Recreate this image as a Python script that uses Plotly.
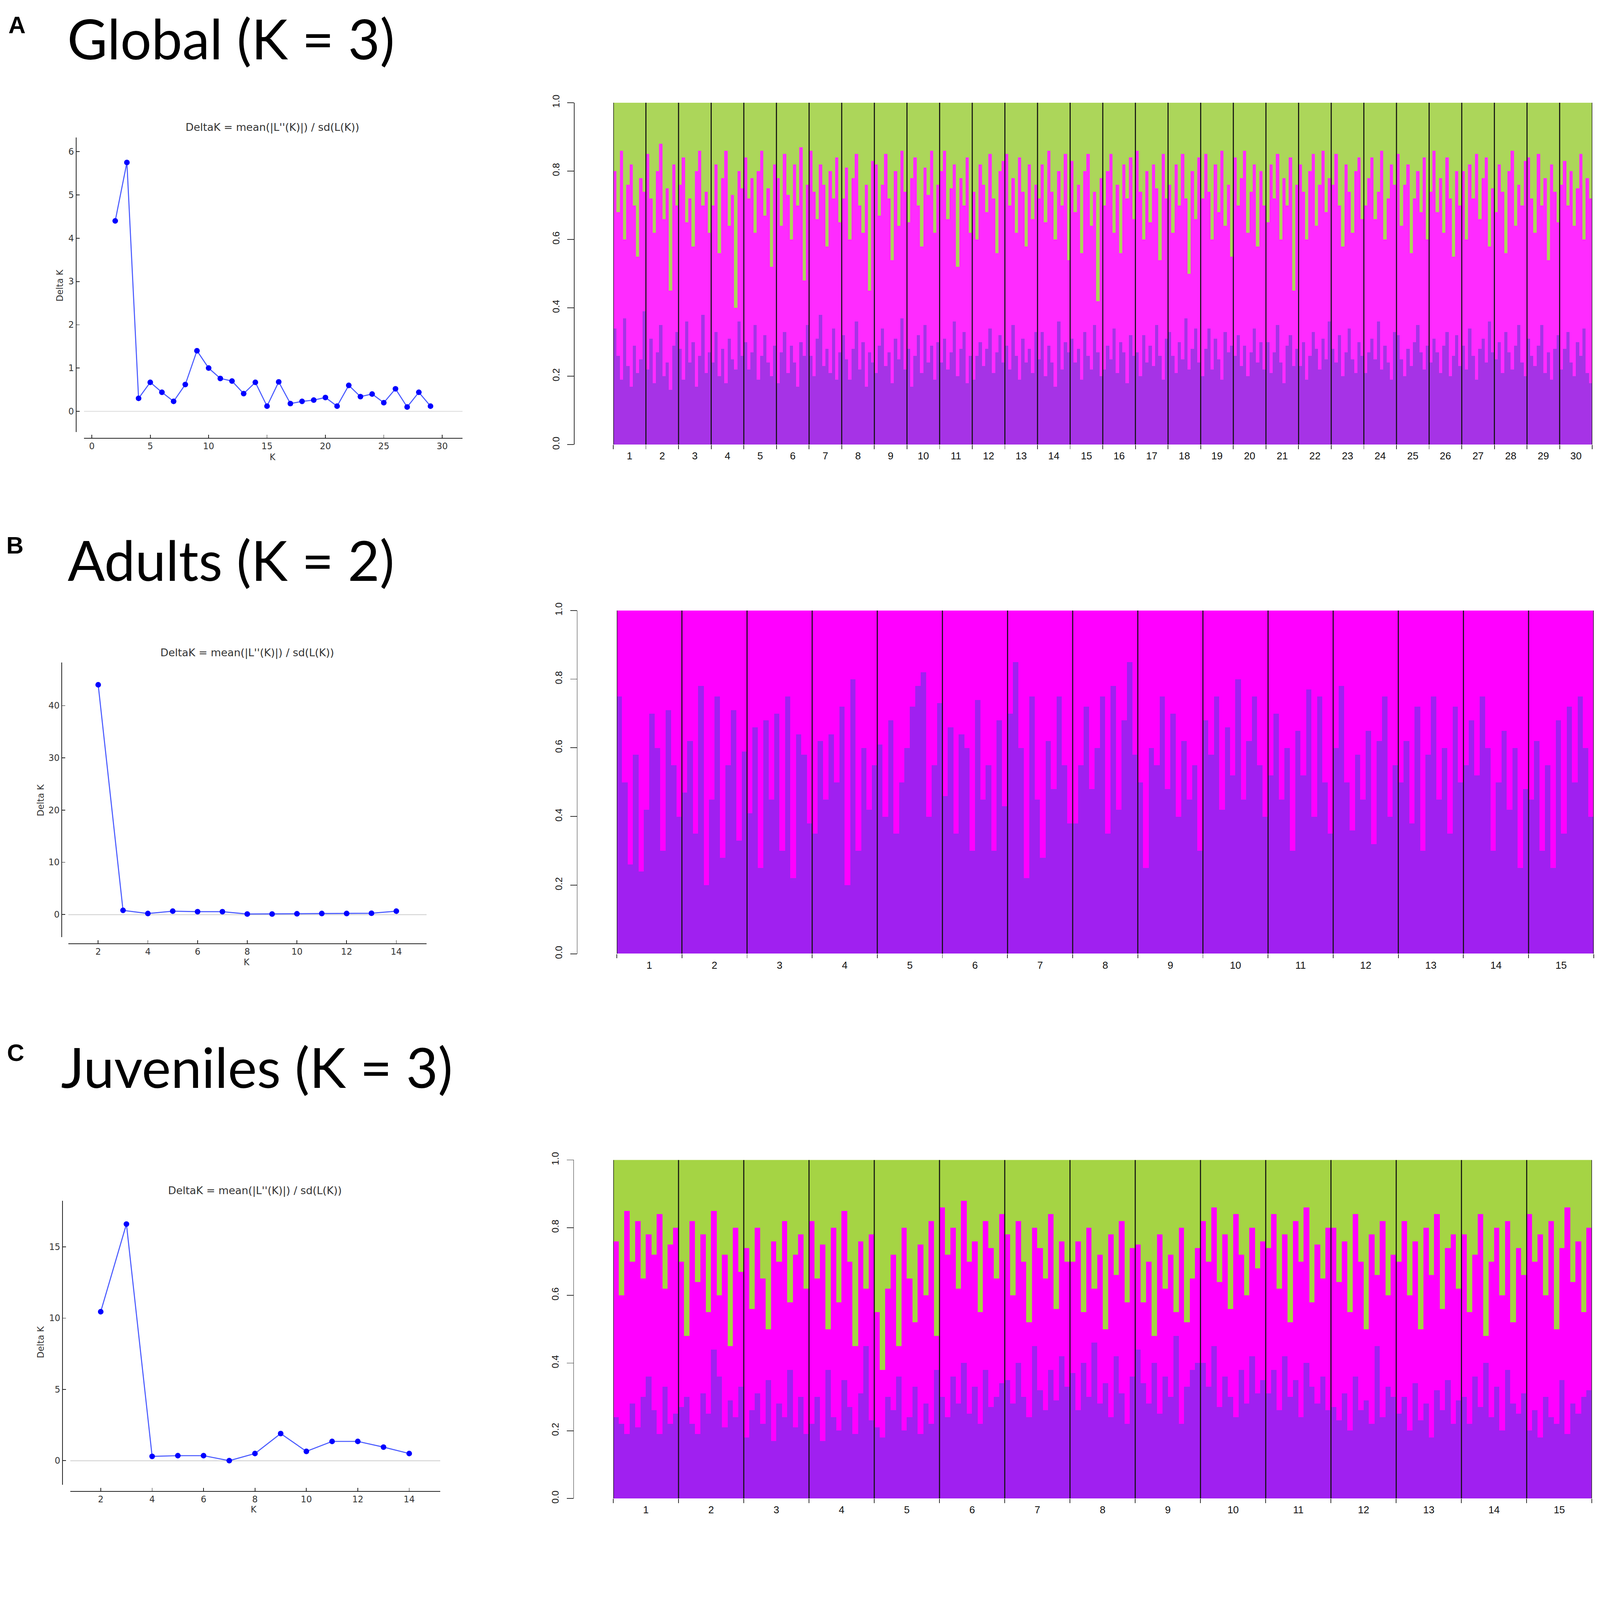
import plotly.graph_objects as go

W, H = 4563, 4349

# ---- Evanno delta K curves (left column) ----
global_k = list(range(2, 30))
global_dk = [4.4, 5.75, 0.3, 0.67, 0.44, 0.23, 0.62, 1.4, 1.0, 0.76, 0.7, 0.41, 0.67, 0.12,
             0.68, 0.18, 0.23, 0.26, 0.32, 0.12, 0.6, 0.34, 0.4, 0.2, 0.52, 0.1, 0.44, 0.12]
adult_k = list(range(2, 15))
adult_dk = [44.0, 0.8, 0.2, 0.65, 0.55, 0.55, 0.1, 0.1, 0.15, 0.2, 0.2, 0.25, 0.65]
juv_k = list(range(2, 15))
juv_dk = [10.45, 16.6, 0.3, 0.35, 0.35, 0.0, 0.5, 1.9, 0.65, 1.35, 1.35, 0.95, 0.5]

# ---- STRUCTURE membership (%), one row per population ----
# Global, K = 3 : purple and green clusters (magenta is the rest)
global_purple = [
    [34, 26, 19, 37, 23, 17, 29, 21, 25, 39], [22, 31, 18, 27, 35, 20, 24, 16, 29, 33],
    [28, 19, 36, 24, 30, 17, 26, 38, 21, 27], [24, 33, 20, 28, 18, 31, 25, 22, 36, 26],
    [30, 22, 27, 35, 19, 26, 32, 24, 20, 29], [18, 27, 33, 21, 29, 24, 17, 30, 26, 35],
    [26, 20, 31, 38, 23, 28, 21, 34, 19, 27], [32, 25, 19, 28, 36, 22, 30, 17, 27, 24],
    [21, 29, 34, 23, 27, 18, 31, 25, 37, 22], [28, 17, 26, 32, 21, 35, 24, 29, 19, 30],
    [24, 31, 22, 27, 36, 20, 28, 33, 18, 26], [19, 26, 30, 23, 28, 34, 21, 27, 32, 24],
    [29, 22, 35, 26, 19, 31, 24, 28, 21, 33], [25, 33, 20, 29, 24, 17, 36, 22, 30, 27],
    [31, 24, 28, 19, 33, 26, 22, 35, 27, 20], [22, 29, 25, 34, 21, 30, 27, 18, 32, 26],
    [27, 20, 32, 24, 29, 23, 35, 26, 19, 31], [33, 26, 21, 30, 25, 37, 22, 28, 34, 24],
    [20, 28, 34, 22, 31, 25, 19, 33, 27, 29], [26, 32, 23, 29, 20, 27, 34, 24, 30, 22],
    [30, 21, 27, 35, 24, 18, 29, 32, 23, 28], [23, 30, 19, 26, 33, 28, 22, 31, 25, 36],
    [28, 24, 32, 20, 27, 34, 25, 21, 30, 26], [21, 27, 31, 25, 36, 22, 29, 24, 19, 33],
    [32, 25, 20, 28, 23, 30, 35, 27, 22, 29], [24, 31, 27, 21, 29, 33, 20, 26, 32, 23],
    [29, 22, 34, 26, 19, 28, 31, 24, 36, 27], [25, 30, 21, 33, 27, 22, 29, 35, 24, 20],
    [31, 26, 23, 29, 35, 21, 27, 19, 28, 32], [22, 28, 33, 24, 20, 30, 26, 34, 21, 18],
]
global_green = [
    [20, 32, 14, 40, 24, 18, 30, 45, 22, 26], [15, 28, 38, 20, 12, 34, 25, 55, 18, 30],
    [24, 16, 35, 28, 42, 20, 14, 30, 26, 38], [30, 18, 44, 22, 14, 36, 27, 60, 20, 25],
    [16, 28, 22, 38, 20, 14, 33, 25, 48, 18], [22, 36, 15, 27, 40, 18, 30, 13, 52, 24],
    [14, 26, 34, 18, 24, 42, 20, 28, 16, 35], [28, 19, 40, 22, 15, 30, 38, 24, 55, 17],
    [18, 33, 24, 15, 28, 46, 20, 36, 14, 26], [35, 22, 16, 30, 42, 19, 27, 14, 38, 24],
    [20, 14, 34, 25, 18, 48, 22, 30, 16, 38], [26, 40, 18, 24, 32, 15, 28, 44, 20, 17],
    [15, 30, 22, 38, 16, 26, 42, 18, 34, 24], [28, 18, 35, 14, 26, 40, 20, 30, 15, 46],
    [17, 32, 24, 44, 20, 15, 36, 26, 58, 22], [30, 20, 15, 38, 24, 44, 18, 28, 16, 34],
    [14, 26, 40, 20, 35, 18, 25, 46, 15, 28], [24, 38, 18, 30, 15, 28, 50, 20, 34, 16],
    [28, 15, 26, 40, 18, 32, 14, 36, 24, 45], [16, 30, 22, 14, 38, 26, 18, 42, 20, 30],
    [35, 18, 28, 15, 40, 22, 30, 16, 55, 24], [18, 26, 40, 20, 15, 36, 24, 14, 32, 22],
    [24, 15, 30, 42, 18, 26, 38, 20, 16, 34], [30, 22, 16, 34, 26, 14, 40, 28, 18, 24],
    [15, 36, 24, 18, 44, 28, 20, 32, 16, 40], [26, 14, 32, 22, 38, 16, 28, 45, 20, 30],
    [20, 40, 18, 28, 15, 34, 22, 16, 42, 25], [32, 18, 26, 44, 20, 14, 36, 24, 30, 17],
    [16, 28, 38, 15, 30, 22, 46, 18, 26, 35], [24, 17, 30, 20, 36, 25, 15, 40, 22, 28],
]

# Adults, K = 2 : purple cluster (magenta is the rest)
adult_purple = [
    [75, 50, 26, 58, 24, 42, 70, 60, 30, 71, 55, 40], [47, 62, 35, 78, 20, 45, 75, 28, 55, 71, 33, 59],
    [41, 66, 25, 68, 45, 70, 30, 75, 22, 64, 58, 38], [35, 62, 45, 64, 50, 72, 20, 80, 30, 60, 42, 55],
    [61, 40, 68, 35, 50, 60, 72, 78, 82, 40, 55, 73], [46, 66, 35, 64, 60, 30, 74, 45, 55, 30, 68, 43],
    [70, 85, 60, 22, 75, 45, 28, 62, 48, 75, 55, 38], [38, 55, 72, 48, 60, 75, 35, 78, 42, 68, 85, 58],
    [50, 25, 60, 55, 75, 48, 70, 40, 62, 45, 55, 30], [68, 58, 75, 42, 66, 52, 80, 45, 62, 75, 55, 40],
    [52, 70, 45, 60, 30, 65, 52, 77, 40, 75, 50, 35], [60, 78, 50, 36, 58, 45, 65, 32, 62, 75, 40, 55],
    [50, 62, 38, 72, 30, 58, 75, 45, 60, 35, 72, 50], [55, 68, 52, 75, 60, 30, 50, 65, 42, 60, 25, 48],
    [45, 62, 30, 55, 25, 68, 35, 72, 50, 75, 60, 40],
]

# Juveniles, K = 3 : purple and green clusters (magenta is the rest)
juv_purple = [
    [24, 22, 19, 28, 21, 30, 36, 26, 19, 33, 22, 25], [27, 30, 22, 19, 31, 25, 44, 36, 21, 29, 24, 33],
    [18, 26, 31, 22, 35, 17, 28, 24, 38, 21, 30, 19], [22, 30, 17, 38, 24, 20, 35, 27, 19, 31, 45, 23],
    [21, 18, 30, 26, 36, 20, 24, 33, 19, 28, 22, 38], [30, 24, 36, 28, 40, 25, 33, 22, 38, 27, 30, 34],
    [35, 28, 40, 30, 24, 45, 32, 26, 38, 29, 42, 33], [37, 26, 40, 30, 46, 28, 34, 24, 42, 31, 22, 36],
    [44, 34, 28, 40, 25, 36, 30, 48, 22, 33, 38, 40], [40, 33, 45, 27, 36, 30, 24, 38, 28, 42, 31, 35],
    [31, 38, 26, 42, 30, 35, 24, 40, 33, 28, 36, 26], [27, 23, 31, 20, 36, 26, 29, 22, 45, 24, 33, 30],
    [25, 30, 20, 34, 23, 28, 18, 32, 26, 35, 22, 29], [30, 22, 36, 27, 40, 24, 33, 20, 38, 28, 25, 31],
    [20, 26, 18, 30, 24, 22, 35, 19, 28, 25, 30, 32],
]
juv_green = [
    [24, 40, 15, 30, 18, 35, 22, 28, 16, 38, 25, 20], [30, 52, 18, 36, 22, 45, 15, 40, 28, 55, 20, 33],
    [26, 44, 20, 35, 50, 24, 30, 18, 42, 28, 22, 38], [18, 35, 25, 50, 20, 42, 15, 30, 55, 24, 38, 22],
    [45, 62, 38, 28, 55, 20, 35, 48, 25, 40, 18, 52], [14, 28, 20, 38, 12, 30, 24, 45, 18, 26, 35, 16],
    [22, 40, 18, 30, 48, 20, 26, 35, 16, 44, 24, 30], [30, 24, 45, 20, 38, 28, 50, 22, 34, 18, 42, 26],
    [25, 42, 30, 52, 22, 38, 28, 45, 20, 48, 35, 26], [18, 30, 14, 36, 22, 44, 16, 28, 40, 20, 32, 24],
    [26, 16, 38, 22, 48, 18, 30, 14, 42, 25, 35, 20], [20, 36, 24, 45, 16, 30, 50, 22, 34, 18, 40, 28],
    [30, 18, 40, 24, 50, 20, 34, 16, 44, 26, 22, 38], [22, 45, 28, 16, 52, 30, 20, 40, 18, 48, 26, 34],
    [16, 30, 22, 40, 18, 50, 26, 14, 36, 24, 45, 20],
]

PURPLE, MAGENTA, GREEN = '#a020f0', '#ff00ff', '#a5d444'
# panel A is a softer (resampled) image in the original
PURPLE_A, MAGENTA_A, GREEN_A = '#a633e6', '#ff2bff', '#acd65a'


def ppx(x):
    return x / W


def ppy(y):
    return 1 - y / H


fig = go.Figure()
shapes = []
annotations = []
layout_axes = {}


def label(text, x, y, font, **kw):
    annotations.append(dict(text=text, x=ppx(x), y=ppy(y), xref='paper', yref='paper', showarrow=False,
                            xanchor=kw.pop('xanchor', 'center'), yanchor='middle', font=font, **kw))


def dk_panel(n, ks, dks, xdom, xr, xline, xticks, ydom, yr, yline, yticks, title_xy, ylab_xy, xlab_xy):
    sx = '' if n == 1 else str(n)
    fig.add_trace(go.Scatter(x=ks, y=dks, mode='lines+markers', xaxis='x' + sx, yaxis='y' + sx,
                             line=dict(color='rgba(40,60,255,0.85)', width=3),
                             marker=dict(color='#0000ff', size=16), hoverinfo='skip'))
    common = dict(showline=True, linecolor='#222', linewidth=2, ticks='inside', ticklen=9, tickwidth=2,
                  tickcolor='#222', showgrid=False,
                  tickfont=dict(family='DejaVu Sans', size=25, color='#333'))
    layout_axes['xaxis' + sx] = dict(common, domain=[ppx(xdom[0]), ppx(xdom[1])], range=xr, anchor='free',
                                     position=ppy(xline), tickvals=xticks, zeroline=False)
    layout_axes['yaxis' + sx] = dict(common, domain=[ppy(ydom[0]), ppy(ydom[1])], range=yr, anchor='free',
                                     position=ppx(yline), tickvals=yticks, zeroline=True,
                                     zerolinecolor='#dcdcdc', zerolinewidth=3)
    f = dict(family='DejaVu Sans', size=30, color='#333')
    label("DeltaK = mean(|L''(K)|) / sd(L(K))", title_xy[0], title_xy[1], f)
    label('Delta K', ylab_xy[0], ylab_xy[1], dict(f, size=25), textangle=-90)
    label('K', xlab_xy[0], xlab_xy[1], dict(f, size=25))


def structure_panel(n, clusters, colors, xdom, ytop, ybot, yline):
    # clusters are in stacking order; None marks the cluster that takes the remainder
    sx = str(n)
    known = [q for q in clusters if q is not None]
    n_pop, n_ind = len(known[0]), len(known[0][0])
    xs = list(range(n_pop * n_ind))
    flat = [None if q is None else [v / 100 for row in q for v in row] for q in clusters]
    rest = [1.0 - sum(q[i] for q in flat if q is not None) for i in xs]
    for q, col in zip(flat, colors):
        fig.add_trace(go.Bar(x=xs, y=rest if q is None else q, width=1, xaxis='x' + sx, yaxis='y' + sx,
                             marker=dict(color=col, line=dict(width=0)), hoverinfo='skip'))
    bounds = [i * n_ind - 0.5 for i in range(n_pop + 1)]
    centers = [i * n_ind + (n_ind - 1) / 2 for i in range(n_pop)]
    layout_axes['xaxis' + sx] = dict(domain=[ppx(xdom[0]), ppx(xdom[1])], range=[-0.5, len(xs) - 0.5],
                                     anchor='y' + sx, showline=False, showgrid=False, zeroline=False,
                                     tickvals=centers, ticktext=[str(i + 1) for i in range(n_pop)], ticks='',
                                     ticklabelstandoff=12,
                                     tickfont=dict(family='Liberation Sans', size=29, color='#111'),
                                     minor=dict(tickmode='array', tickvals=bounds, ticks='outside', ticklen=12,
                                                tickwidth=2, tickcolor='#333', showgrid=False))
    layout_axes['yaxis' + sx] = dict(domain=[ppy(ybot), ppy(ytop)], range=[0, 1], anchor='free',
                                     position=ppx(yline), showline=True, linecolor='#333', linewidth=2,
                                     ticks='outside', ticklen=19, tickwidth=2, tickcolor='#333',
                                     showgrid=False, zeroline=False, ticklabelstandoff=12,
                                     tickvals=[0, 0.2, 0.4, 0.6, 0.8, 1.0],
                                     ticktext=['0.0', '0.2', '0.4', '0.6', '0.8', '1.0'], tickangle=-90,
                                     tickfont=dict(family='Liberation Sans', size=27, color='#111'))
    for b in bounds:
        shapes.append(dict(type='line', xref='x' + sx, yref='y' + sx, x0=b, x1=b, y0=0, y1=1,
                           line=dict(color='#111', width=3)))


# panel A
dk_panel(1, global_k, global_dk, (239, 1319), [-0.69, 31.74], 1238, list(range(0, 31, 5)),
         (1220, 372), [-0.48, 6.33], 217, list(range(0, 7)), (777, 343), (170, 798), (777, 1292))
structure_panel(2, [global_purple, None, global_green], [PURPLE_A, MAGENTA_A, GREEN_A],
                (1749, 4541), 272, 1256, 1638)

# panel B
dk_panel(3, adult_k, adult_dk, (195, 1216), [0.8, 15.21], 2692, list(range(2, 15, 2)),
         (2673, 1883), [-4.33, 48.25], 176, [0, 10, 20, 30, 40], (705, 1855), (116, 2279), (703, 2745))
structure_panel(4, [adult_purple, None], [PURPLE, MAGENTA], (1759, 4545), 1733, 2721, 1646)

# panel C
dk_panel(5, juv_k, juv_dk, (200, 1255), [0.81, 15.2], 4268, list(range(2, 15, 2)),
         (4248, 3432), [-1.68, 18.22], 178, [0, 5, 10, 15], (727, 3403), (116, 3838), (723, 4320))
structure_panel(6, [juv_purple, None, juv_green], [PURPLE, MAGENTA, GREEN], (1749, 4540), 3314, 4288, 1636)

# big panel headings and letters
for letter, lxy, head, hxy in [('A', (48, 48), 'Global (K = 3)', (190, 86)),
                               ('B', (42, 1545), 'Adults (K = 2)', (191, 1586)),
                               ('C', (44, 3005), 'Juveniles (K = 3)', (172, 3045))]:
    label('<b>' + letter + '</b>', lxy[0], lxy[1], dict(family='Liberation Sans', size=68, color='black'))
    label(head, hxy[0], hxy[1], dict(family='Lato', size=157, color='black'), xanchor='left')

fig.update_layout(width=W, height=H, margin=dict(l=0, r=0, t=0, b=0), paper_bgcolor='white',
                  plot_bgcolor='white', showlegend=False, barmode='stack', bargap=0,
                  shapes=shapes, annotations=annotations, **layout_axes)

# keep the whole 4563x4349 figure inside the window, whatever its real size
fit = """
document.body.style.margin = '0';
document.body.style.overflow = 'hidden';
var gd = document.getElementById('{plot_id}');
var s = Math.min(window.innerWidth / %d, window.innerHeight / %d);
gd.style.transformOrigin = '0 0';
gd.style.transform = 'scale(' + s + ')';
""" % (W, H)

fig.write_html("out.html", post_script=fit, config={'displayModeBar': False})
